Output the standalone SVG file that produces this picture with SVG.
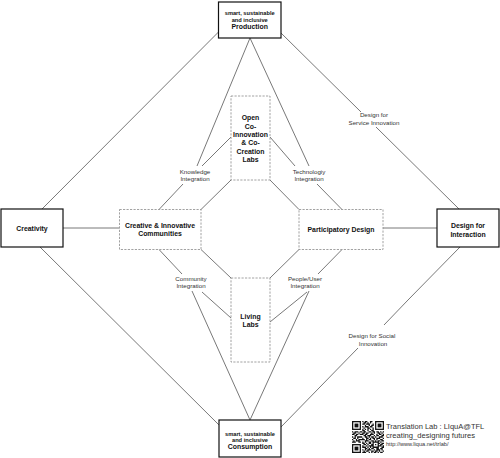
<svg xmlns="http://www.w3.org/2000/svg" width="500" height="458" viewBox="0 0 500 458">
<style>
.bg{fill:#fff}
.solid{fill:#fff;stroke:#111;stroke-width:1.2}
.dash{fill:#fff;stroke:#8a8a8a;stroke-width:0.8;stroke-dasharray:2.2 1.3}
.c line{stroke:#555;stroke-width:0.8;fill:none}
.t{font-family:"Liberation Sans",Arial,sans-serif;font-weight:bold;fill:#111;text-anchor:middle}
.b{font-size:6.9px}
.s{font-size:5.7px}
.l{font-family:"Liberation Sans",Arial,sans-serif;font-size:6.2px;fill:#333;text-anchor:middle}
.f{font-family:"Liberation Sans",Arial,sans-serif;fill:#333}
</style>
<rect class="bg" x="0" y="0" width="500" height="458"/>
<g id="connectors" class="c">
<line x1="218.5" y1="32" x2="42" y2="209"/>
<line x1="281" y1="33" x2="361" y2="112"/>
<line x1="376" y1="127" x2="459" y2="209"/>
<line x1="40" y1="247" x2="219" y2="425"/>
<line x1="460" y1="247" x2="408" y2="300"/>
<line x1="408" y1="300" x2="384" y2="325"/>
<line x1="358" y1="348" x2="281" y2="427"/>
<line x1="63" y1="228" x2="119.5" y2="228"/>
<line x1="383" y1="228" x2="437" y2="228"/>
<line x1="231" y1="180" x2="201" y2="209.5"/>
<line x1="270" y1="180" x2="299" y2="209.5"/>
<line x1="201" y1="249.5" x2="231" y2="278"/>
<line x1="299" y1="249.5" x2="270" y2="278"/>
<line x1="250" y1="38" x2="197" y2="166"/>
<line x1="231" y1="137" x2="202" y2="166"/>
<line x1="183" y1="184" x2="159" y2="209.5"/>
<line x1="250" y1="38" x2="309" y2="166"/>
<line x1="270" y1="137" x2="295" y2="166"/>
<line x1="317" y1="184" x2="342" y2="209.5"/>
<line x1="159" y1="249.5" x2="182" y2="274"/>
<line x1="202" y1="292" x2="231" y2="318"/>
<line x1="192" y1="291" x2="250" y2="420"/>
<line x1="342" y1="249.5" x2="318" y2="274"/>
<line x1="307" y1="292" x2="270" y2="322"/>
<line x1="309" y1="291" x2="250" y2="420"/>
</g>
<g id="production">
<rect class="solid" x="218.5" y="2" width="62.5" height="36"/>
<text class="t s" x="249.7" y="15">smart, sustainable</text>
<text class="t s" x="249.7" y="22">and inclusive</text>
<text class="t b" x="249.7" y="29.4">Production</text>
</g>
<g id="consumption">
<rect class="solid" x="219" y="420" width="62" height="37"/>
<text class="t s" x="250" y="435.5">smart, sustainable</text>
<text class="t s" x="250" y="441.8">and inclusive</text>
<text class="t b" x="250" y="448.8">Consumption</text>
</g>
<g id="creativity">
<rect class="solid" x="1" y="209" width="62" height="38"/>
<text class="t b" x="32" y="231">Creativity</text>
</g>
<g id="design-for-interaction">
<rect class="solid" x="437" y="209" width="62" height="38"/>
<text class="t b" x="468" y="228.2">Design for</text>
<text class="t b" x="468" y="236.5">Interaction</text>
</g>
<g id="open-labs">
<rect class="dash" x="231" y="96" width="39" height="84"/>
<text class="t b" x="250.5" y="120.3">Open</text>
<text class="t b" x="250.5" y="128.6">Co-</text>
<text class="t b" x="250.5" y="136.9">Innovation</text>
<text class="t b" x="250.5" y="145.2">&amp; Co-</text>
<text class="t b" x="250.5" y="153.5">Creation</text>
<text class="t b" x="250.5" y="161.8">Labs</text>
</g>
<g id="creative-communities">
<rect class="dash" x="119.5" y="209.5" width="81.5" height="40"/>
<text class="t b" x="160" y="228.2">Creative &amp; Innovative</text>
<text class="t b" x="160" y="236.3">Communities</text>
</g>
<g id="participatory-design">
<rect class="dash" x="299" y="209.5" width="84" height="40"/>
<text class="t b" x="341" y="231.8">Participatory Design</text>
</g>
<g id="living-labs">
<rect class="dash" x="231" y="278" width="39" height="84"/>
<text class="t b" x="250.5" y="318.5">Living</text>
<text class="t b" x="250.5" y="326.6">Labs</text>
</g>
<g id="knowledge-integration">
<text class="l" x="195" y="174.2">Knowledge</text>
<text class="l" x="195" y="181.2">Integration</text>
</g>
<g id="technology-integration">
<text class="l" x="309" y="174.2">Technologiy</text>
<text class="l" x="309" y="181.2">Integration</text>
</g>
<g id="community-integration">
<text class="l" x="191" y="281.2">Community</text>
<text class="l" x="191" y="288.2">Integration</text>
</g>
<g id="people-integration">
<text class="l" x="305" y="281.2">People/User</text>
<text class="l" x="305" y="288.2">Integration</text>
</g>
<g id="service-innovation">
<text class="l" x="374" y="117.2">Design for</text>
<text class="l" x="374" y="125">Service Innovation</text>
</g>
<g id="social-innovation">
<text class="l" x="372" y="337.9">Design for Social</text>
<text class="l" x="373" y="345.5">Innovation</text>
</g>
<g id="credit">
<g transform="translate(352,421) scale(1.28)" fill="#111">
<rect x="0" y="0" width="7" height="7"/><rect x="1" y="1" width="5" height="5" fill="#fff"/><rect x="2" y="2" width="3" height="3"/>
<rect x="18" y="0" width="7" height="7"/><rect x="19" y="1" width="5" height="5" fill="#fff"/><rect x="20" y="2" width="3" height="3"/>
<rect x="0" y="18" width="7" height="7"/><rect x="1" y="19" width="5" height="5" fill="#fff"/><rect x="2" y="20" width="3" height="3"/>
<path d="M8 0h1v1h-1zM10 0h2v1h-2zM14 0h2v1h-2z
M9 1h2v1h-2zM12 1h1v1h-1zM14 1h1v1h-1z
M8 2h2v1h-2zM11 2h3v1h-3zM16 2h1v1h-1z
M10 3h1v1h-1zM13 3h1v1h-1zM15 3h2v1h-2z
M8 4h1v1h-1zM10 4h3v1h-3zM14 4h2v1h-2z
M9 5h1v1h-1zM12 5h2v1h-2zM16 5h1v1h-1z
M8 6h1v1h-1zM10 6h1v1h-1zM12 6h1v1h-1zM14 6h1v1h-1zM16 6h1v1h-1z
M8 7h2v1h-2zM12 7h1v1h-1zM15 7h2v1h-2z
M0 8h1v1h-1zM2 8h3v1h-3zM6 8h2v1h-2zM9 8h2v1h-2zM13 8h2v1h-2zM16 8h2v1h-2zM19 8h2v1h-2zM22 8h1v1h-1zM24 8h1v1h-1z
M1 9h2v1h-2zM5 9h1v1h-1zM8 9h2v1h-2zM11 9h2v1h-2zM15 9h1v1h-1zM17 9h1v1h-1zM20 9h2v1h-2zM23 9h1v1h-1z
M0 10h2v1h-2zM3 10h2v1h-2zM6 10h3v1h-3zM10 10h2v1h-2zM14 10h3v1h-3zM19 10h1v1h-1zM21 10h2v1h-2zM24 10h1v1h-1z
M2 11h2v1h-2zM9 11h2v1h-2zM12 11h3v1h-3zM17 11h1v1h-1zM19 11h2v1h-2zM23 11h2v1h-2z
M0 12h1v1h-1zM2 12h1v1h-1zM4 12h4v1h-4zM10 12h2v1h-2zM13 12h1v1h-1zM15 12h2v1h-2zM18 12h1v1h-1zM21 12h3v1h-3z
M1 13h2v1h-2zM4 13h1v1h-1zM8 13h1v1h-1zM11 13h2v1h-2zM14 13h1v1h-1zM16 13h2v1h-2zM19 13h3v1h-3zM24 13h1v1h-1z
M0 14h1v1h-1zM3 14h1v1h-1zM5 14h5v1h-5zM11 14h1v1h-1zM13 14h2v1h-2zM17 14h1v1h-1zM19 14h1v1h-1zM22 14h2v1h-2z
M1 15h1v1h-1zM3 15h3v1h-3zM10 15h3v1h-3zM15 15h2v1h-2zM18 15h1v1h-1zM20 15h2v1h-2zM23 15h2v1h-2z
M0 16h3v1h-3zM5 16h2v1h-2zM8 16h1v1h-1zM10 16h1v1h-1zM13 16h2v1h-2zM16 16h5v1h-5zM22 16h1v1h-1z
M8 17h2v1h-2zM11 17h1v1h-1zM13 17h2v1h-2zM16 17h1v1h-1zM20 17h2v1h-2zM23 17h2v1h-2z
M9 18h2v1h-2zM12 18h1v1h-1zM15 18h2v1h-2zM18 18h1v1h-1zM20 18h1v1h-1zM22 18h2v1h-2z
M8 19h1v1h-1zM11 19h1v1h-1zM13 19h4v1h-4zM20 19h3v1h-3zM24 19h1v1h-1z
M8 20h3v1h-3zM12 20h1v1h-1zM14 20h1v1h-1zM16 20h5v1h-5zM23 20h2v1h-2z
M10 21h2v1h-2zM13 21h1v1h-1zM15 21h2v1h-2zM19 21h2v1h-2zM22 21h2v1h-2z
M8 22h1v1h-1zM10 22h1v1h-1zM12 22h3v1h-3zM17 22h1v1h-1zM19 22h3v1h-3zM23 22h1v1h-1z
M9 23h1v1h-1zM11 23h2v1h-2zM15 23h2v1h-2zM18 23h2v1h-2zM21 23h1v1h-1zM24 23h1v1h-1z
M8 24h3v1h-3zM13 24h1v1h-1zM15 24h1v1h-1zM17 24h2v1h-2zM20 24h1v1h-1zM22 24h2v1h-2z"/>
</g>
<text class="f" x="386" y="429" font-size="7.5px">Translation Lab : LIquA@TFL</text>
<text class="f" x="386" y="438" font-size="7.6px">creating_designing futures</text>
<text class="f" x="386" y="446" font-size="5.6px">http://www.liqua.net/trlab/</text>
</g>
</svg>
